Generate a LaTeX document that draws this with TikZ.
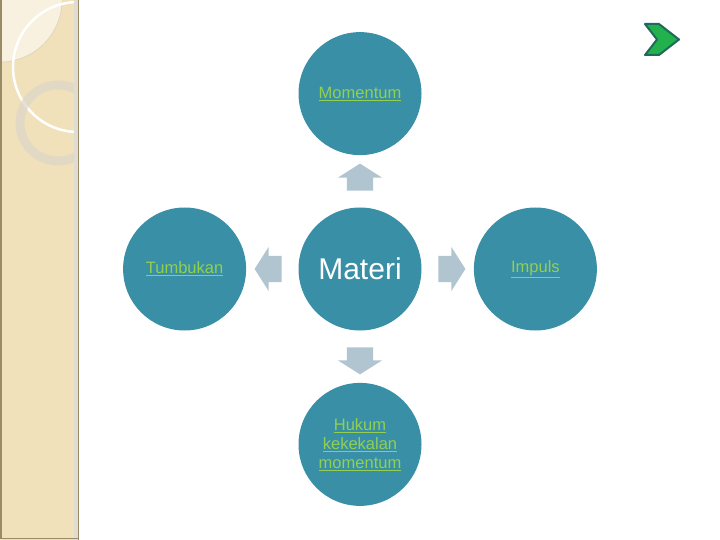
\documentclass[tikz,border=0pt]{standalone}
\usepackage{fontspec}
\setmainfont{Liberation Sans}
\usetikzlibrary{positioning,calc,shapes.arrows}
\definecolor{bubble}{HTML}{388FA6}
\definecolor{linkgreen}{HTML}{92D050}
\definecolor{arrowgray}{HTML}{B1C5D0}
\definecolor{strip}{HTML}{F1E1BA}
\definecolor{stripedge}{HTML}{9A8A66}
\definecolor{chevgreen}{HTML}{22B14C}
\definecolor{chevedge}{HTML}{1F6A5C}

\begin{document}
\begin{tikzpicture}[x=1pt, y=-1pt,
    bubble/.style={circle, fill=bubble, minimum size=123pt, inner sep=0pt},
    linktext/.style={text=linkgreen, font=\fontsize{16.5}{19}\selectfont, align=center},
    blockarrow/.style={single arrow, fill=arrowgray, inner xsep=0pt, inner ysep=13pt,
        minimum height=27pt, minimum width=44pt, single arrow head extend=9pt,
        single arrow tip angle=115}
]
    \useasboundingbox (0,0) rectangle (720,540);
    % side strip
    \fill[strip] (0,0) rectangle (78,540);
    \begin{scope}
        \clip (0,0) rectangle (78,540);
        \fill[white!55!strip, draw=stripedge!45] (0,0) circle[radius=62];
        \draw[white, line width=2.5pt] (78,67) circle[radius=65];
        \draw[stripedge!35, line width=9pt, opacity=0.7] (58,123) circle[radius=38];
    \end{scope}
    \fill[stripedge!30] (74,0) rectangle (78,540);
    \draw[stripedge, line width=1pt] (78,0) -- (78,540);
    \draw[stripedge, line width=1.5pt] (0.75,0) -- (0.75,538.5) -- (78,538.5);

    % next-slide chevron
    \filldraw[fill=chevgreen, draw=chevedge, line width=2pt, line join=round]
        (645,24) -- (659,24) -- (679,39.5) -- (659,55) -- (645,55) -- (657,39.5) -- cycle;

    \node[bubble] (materi) at (360,269) {};
    \node[font=\fontsize{30}{32}\selectfont, text=white] at (materi) {Materi};
    \node[bubble, above=52pt of materi] (momentum) {};
    \node[linktext] at (momentum) {\underline{Momentum}};
    \node[bubble, left=52pt of materi] (tumbukan) {};
    \node[linktext] at (tumbukan) {\underline{Tumbukan}};
    \node[bubble, right=52pt of materi] (impuls) {};
    \node[linktext] at (impuls) {\underline{Impuls}};
    \node[bubble, below=52pt of materi] (hukum) {};
    \node[linktext] at (hukum) {\underline{Hukum}\\\underline{kekekalan}\\\underline{momentum}};

    \node[blockarrow, rotate=90] (toup) at ($(materi.north)!0.5!(momentum.south)$) {};
    \node[blockarrow, rotate=180] (toleft) at ($(materi.west)!0.5!(tumbukan.east)$) {};
    \node[blockarrow] (toright) at ($(materi.east)!0.5!(impuls.west)$) {};
    \node[blockarrow, rotate=-90] (todown) at ($(materi.south)!0.5!(hukum.north)$) {};
\end{tikzpicture}
\end{document}
